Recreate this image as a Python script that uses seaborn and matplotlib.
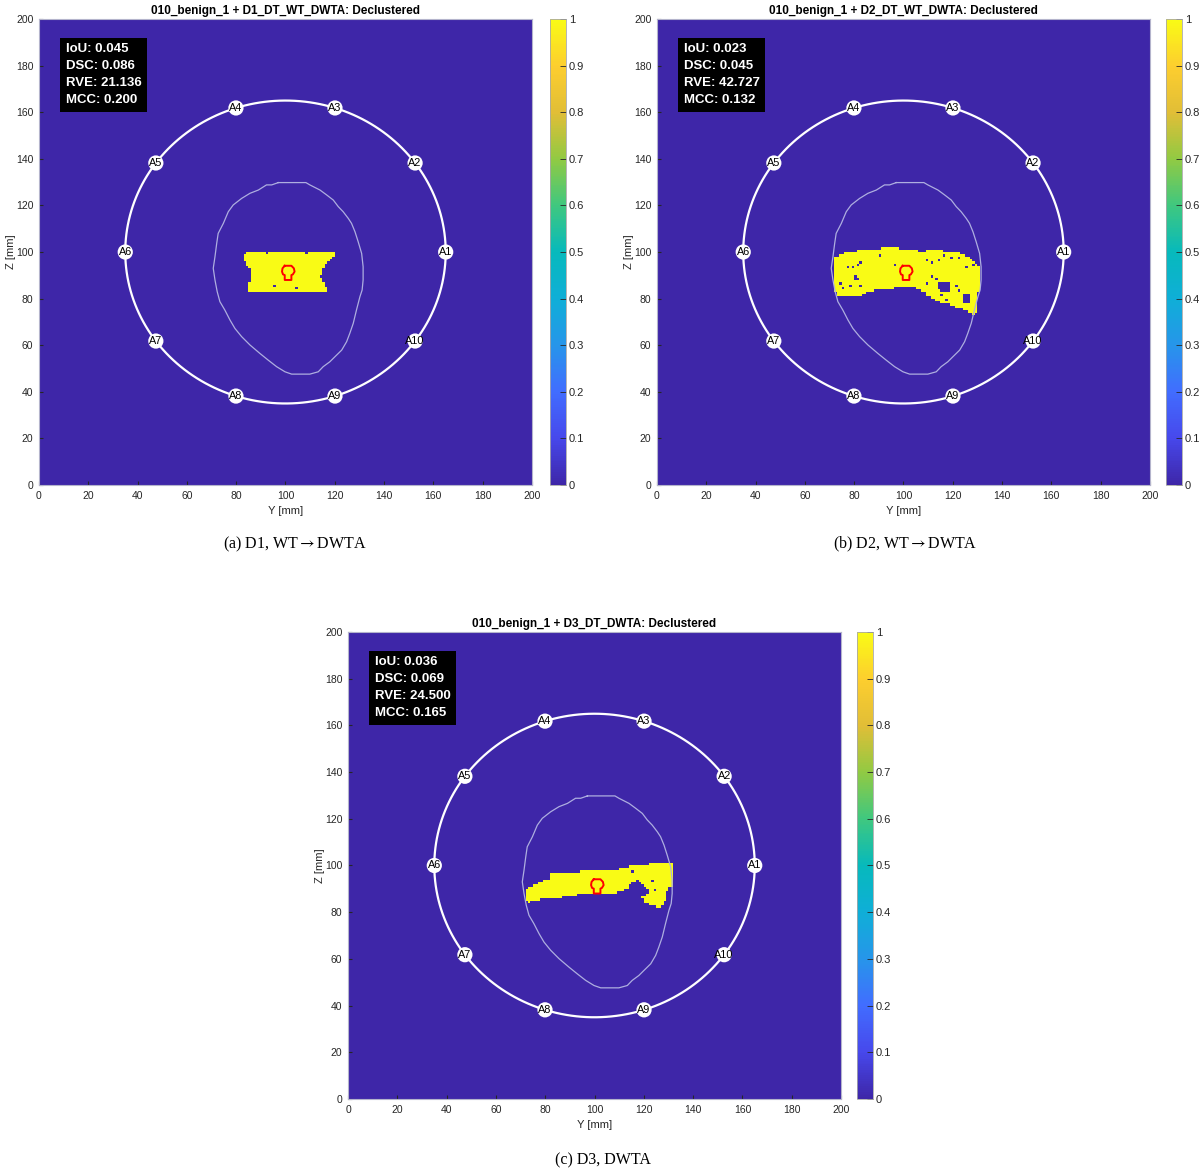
import numpy as np
import matplotlib
matplotlib.use("Agg")
import matplotlib.pyplot as plt
from matplotlib.colors import LinearSegmentedColormap
from matplotlib.path import Path
import seaborn as sns

plt.rcParams["font.family"] = ["Liberation Sans", "DejaVu Sans"]
plt.rcParams["mathtext.fontset"] = "stix"

# ---------------------------------------------------------------- data
panel_titles = [
    "010_benign_1 + D1_DT_WT_DWTA: Declustered",
    "010_benign_1 + D2_DT_WT_DWTA: Declustered",
    "010_benign_1 + D3_DT_DWTA: Declustered",
]
captions = [r"(a) D1, WT$\rightarrow$DWTA", r"(b) D2, WT$\rightarrow$DWTA", "(c) D3, DWTA"]

metric_names = ["IoU", "DSC", "RVE", "MCC"]
metrics_d1 = [0.045, 0.086, 21.136, 0.200]
metrics_d2 = [0.023, 0.045, 42.727, 0.132]
metrics_d3 = [0.036, 0.069, 24.500, 0.165]

x_ticks = [0, 20, 40, 60, 80, 100, 120, 140, 160, 180, 200]
y_ticks = [0, 20, 40, 60, 80, 100, 120, 140, 160, 180, 200]
cbar_ticks = [0, 0.1, 0.2, 0.3, 0.4, 0.5, 0.6, 0.7, 0.8, 0.9, 1]
cbar_labels = ["0", "0.1", "0.2", "0.3", "0.4", "0.5", "0.6", "0.7", "0.8", "0.9", "1"]

# antenna ring (mm)
antenna_labels = ["A1", "A2", "A3", "A4", "A5", "A6", "A7", "A8", "A9", "A10"]
antenna_angles_deg = [0, 36, 72, 108, 144, 180, 216, 252, 288, 324]
ring_center = (100.0, 100.0)
ring_radius = 65.0

# breast contour (mm)
breast_x = [97.1, 108.3, 109.9, 114.0, 116.7, 119.4, 121.4, 123.4, 125.5, 126.8,
            128.2, 129.5, 130.9, 131.5, 131.5, 131.1, 130.2, 128.8, 127.5, 126.1,
            124.8, 122.8, 120.1, 118.0, 115.3, 113.3, 109.9, 102.5, 99.8, 96.4,
            93.0, 89.6, 85.6, 82.2, 79.5, 77.5, 75.4, 73.4, 72.3, 71.4,
            70.7, 71.4, 72.1, 72.7, 74.8, 76.8, 78.8, 82.2, 85.6, 89.0,
            92.3, 94.4, 97.1]
breast_y = [129.8, 129.8, 128.8, 126.6, 124.5, 122.3, 119.5, 117.3, 114.4, 112.3,
            108.7, 104.4, 99.4, 93.7, 88.0, 83.7, 80.8, 75.1, 69.4, 65.1,
            61.5, 57.9, 55.1, 52.9, 50.8, 48.6, 47.6, 47.6, 48.6, 50.8,
            53.6, 56.5, 60.1, 63.7, 67.2, 70.8, 75.1, 78.7, 83.0, 88.0,
            93.0, 98.0, 103.7, 108.0, 112.3, 117.3, 120.2, 123.0, 125.2, 126.6,
            128.8, 128.8, 129.8]

# reference tumour contour (mm)
tumor_x = [99.7, 102.4, 103.4, 103.7, 103.0, 102.4, 102.4, 99.7, 99.7, 99.0, 98.6, 98.8, 99.7]
tumor_y = [94.1, 94.1, 93.0, 91.6, 90.4, 90.1, 88.0, 88.0, 90.1, 90.4, 91.6, 93.0, 94.1]

# D1 detection region (mm)
d1_x = [82.6, 84.8, 119.9, 121.0, 119.9, 117.9, 116.2, 115.2, 114.3, 115.2,
        116.3, 117.2, 85.5, 84.8, 85.9, 86.4, 85.5, 84.1, 82.6]
d1_y = [98.7, 99.9, 99.9, 100.9, 98.7, 96.6, 94.4, 92.3, 89.4, 87.3,
        85.1, 83.0, 83.0, 85.1, 88.0, 90.1, 93.0, 95.1, 96.6]
d1_gap_x = [95.2, 104.4, 92.0, 108.5]
d1_gap_y = [85.1, 84.4, 99.5, 99.5]

# D2 detection region (mm)
d2_x = [71.5, 74.6, 78.0, 83.4, 88.8, 91.5, 95.6, 101.0, 107.8, 111.8,
        117.2, 122.6, 126.7, 129.4, 131.4, 131.4, 130.1, 130.1, 128.7, 126.7,
        124.7, 122.0, 119.3, 115.9, 112.5, 109.8, 108.4, 105.1, 95.6, 88.8,
        84.8, 82.1, 73.3, 71.9, 71.5]
d2_y = [97.4, 98.85, 100.3, 100.7, 101.0, 101.7, 101.7, 101.3, 100.3, 101.0,
        100.3, 99.6, 97.4, 94.6, 93.1, 83.8, 82.4, 75.2, 73.1, 73.8,
        75.2, 76.0, 77.4, 78.1, 79.5, 81.0, 83.1, 84.5, 84.5, 83.8,
        82.4, 81.0, 81.0, 83.8, 89.6]
d2_gap_x = [77.4, 79.1, 81.4, 82.1, 80.5, 81.4, 75.3, 78.0, 82.1, 90.9,
            96.3, 109.1, 111.8, 114.5, 116.6, 119.3, 122.6, 125.3, 128.0, 111.8,
            113.2, 109.8, 121.3, 122.6, 115.9, 117.2, 80.5, 74.5]
d2_gap_y = [93.1, 93.8, 94.1, 95.3, 89.5, 88.8, 84.5, 85.3, 85.3, 98.4,
            94.6, 96.0, 95.3, 96.7, 98.1, 97.4, 97.4, 93.8, 94.6, 89.6,
            88.8, 86.7, 85.3, 83.8, 81.0, 79.5, 88.5, 86.2]
d2_hole1_x = [114.0, 116.0, 118.5, 119.5, 119.0, 117.0, 115.0, 113.8]
d2_hole1_y = [86.2, 87.4, 87.0, 85.5, 83.5, 82.8, 83.2, 84.5]
d2_hole2_x = [123.5, 126.0, 127.5, 127.0, 125.0, 123.5]
d2_hole2_y = [81.8, 82.6, 80.5, 78.0, 77.6, 79.2]

# D3 detection region (mm)
d3_x = [71.7, 71.7, 73.0, 75.1, 78.4, 82.5, 86.5, 89.9, 94.0, 98.0,
        104.1, 108.2, 110.2, 112.9, 114.3, 115.6, 117.6, 119.7, 121.0, 122.4,
        121.0, 119.3, 119.7, 121.7, 123.7, 126.4, 127.8, 128.5, 129.1, 130.5,
        131.8, 131.8, 123.1, 116.3, 109.5, 102.8, 96.0, 89.3, 82.5, 81.8,
        77.8, 75.1]
d3_y = [89.8, 86.3, 84.1, 84.8, 85.5, 86.3, 86.5, 87.0, 87.7, 88.0,
        88.0, 87.7, 89.1, 89.8, 91.3, 92.7, 93.7, 92.3, 90.3, 89.1,
        87.7, 86.5, 84.8, 83.4, 82.7, 82.3, 83.4, 85.5, 88.4, 90.6,
        91.7, 100.6, 100.6, 99.9, 98.4, 98.4, 97.7, 97.0, 97.0, 94.8,
        92.7, 91.3]
d3_gap_x = [81.8, 115.6, 123.0, 124.4, 130.5]
d3_gap_y = [94.1, 97.7, 93.4, 89.1, 85.5]

# ---------------------------------------------------------------- colormap
parula_rgb = [
    (0.2422, 0.1504, 0.6603), (0.2783, 0.2843, 0.9256), (0.2563, 0.4279, 0.9992),
    (0.1500, 0.5867, 0.9169), (0.0594, 0.6842, 0.8430), (0.0265, 0.7266, 0.7369),
    (0.2474, 0.7822, 0.4985), (0.5683, 0.7916, 0.2627), (0.8808, 0.7443, 0.2149),
    (0.9916, 0.8077, 0.1827), (0.9769, 0.9839, 0.0805),
]
parula = LinearSegmentedColormap.from_list("parula", parula_rgb, N=256)

N = 200
centers = np.arange(N) + 0.5
XX, YY = np.meshgrid(centers, centers)
cell_pts = np.column_stack([XX.ravel(), YY.ravel()])


def region_mask(px, py, gaps_x, gaps_y, holes=()):
    grid = np.zeros((N, N))
    inside = Path(np.column_stack([px, py])).contains_points(cell_pts)
    grid[inside.reshape(N, N)] = 1.0
    for hx, hy in holes:
        h = Path(np.column_stack([hx, hy])).contains_points(cell_pts)
        grid[h.reshape(N, N)] = 0.0
    for gx, gy in zip(gaps_x, gaps_y):
        grid[int(gy), int(gx)] = 0.0
    return grid


panels = [
    dict(grid=region_mask(d1_x, d1_y, d1_gap_x, d1_gap_y), metrics=metrics_d1,
         ax=[0.0324, 0.5865, 0.4098, 0.3973], cax=[0.4572, 0.5865, 0.0133, 0.3973],
         cap=(0.2453, 0.5362)),
    dict(grid=region_mask(d2_x, d2_y, d2_gap_x, d2_gap_y,
                          holes=[(d2_hole1_x, d2_hole1_y), (d2_hole2_x, d2_hole2_y)]),
         metrics=metrics_d2,
         ax=[0.5461, 0.5865, 0.4098, 0.3973], cax=[0.9692, 0.5865, 0.0133, 0.3973],
         cap=(0.7525, 0.5362)),
    dict(grid=region_mask(d3_x, d3_y, d3_gap_x, d3_gap_y), metrics=metrics_d3,
         ax=[0.2893, 0.0631, 0.4098, 0.3981], cax=[0.7124, 0.0631, 0.0133, 0.3981],
         cap=(0.5012, 0.0111)),
]

TXT = "#262626"
fig = plt.figure(figsize=(12.03, 11.73), dpi=100)

ang = np.deg2rad(antenna_angles_deg)
ant_x = ring_center[0] + ring_radius * np.cos(ang)
ant_y = ring_center[1] + ring_radius * np.sin(ang)
theta = np.linspace(0, 2 * np.pi, 400)

for title, caption, p in zip(panel_titles, captions, panels):
    ax = fig.add_axes(p["ax"])
    cax = fig.add_axes(p["cax"])
    sns.heatmap(p["grid"], ax=ax, cbar_ax=cax, cmap=parula, vmin=0, vmax=1,
                xticklabels=False, yticklabels=False, rasterized=True)
    ax.set_xlim(0, 200)
    ax.set_ylim(0, 200)
    ax.set_xticks(x_ticks)
    ax.set_xticklabels([str(t) for t in x_ticks])
    ax.set_yticks(y_ticks)
    ax.set_yticklabels([str(t) for t in y_ticks])
    ax.tick_params(direction="in", length=3, labelsize=7.5, colors=TXT,
                   labelcolor=TXT, pad=4)
    for s in ax.spines.values():
        s.set_visible(True)
        s.set_color("#b4b4cc")
        s.set_linewidth(0.8)
    ax.set_xlabel("Y [mm]", fontsize=8, color=TXT, labelpad=4)
    ax.set_ylabel("Z [mm]", fontsize=8, color=TXT, labelpad=0)
    ax.set_title(title, fontsize=8.5, fontweight="bold", color="black", pad=3.5)

    # breast outline and reference tumour
    ax.plot(breast_x, breast_y, color="#aeaee0", lw=0.9, zorder=3)
    ax.plot(tumor_x, tumor_y, color="red", lw=1.4, zorder=4)

    # antenna ring
    ax.plot(ring_center[0] + ring_radius * np.cos(theta),
            ring_center[1] + ring_radius * np.sin(theta),
            color="white", lw=1.6, zorder=4)
    ax.scatter(ant_x, ant_y, s=120, c="white", edgecolors="none", zorder=5)
    for lbl, x, y in zip(antenna_labels, ant_x, ant_y):
        ax.text(x, y, lbl, ha="center", va="center", fontsize=7.8,
                color="black", zorder=6)

    # metrics box
    m = p["metrics"]
    txt = "\n".join([
        f"{metric_names[0]}: {m[0]:.3f}",
        f"{metric_names[1]}: {m[1]:.3f}",
        f"{metric_names[2]}: {m[2]:.3f}",
        f"{metric_names[3]}: {m[3]:.3f}",
    ])
    ax.text(10.9, 189.6, txt, ha="left", va="top", fontsize=9.5,
            fontweight="bold", color="white", linespacing=1.55, zorder=7,
            bbox=dict(boxstyle="square,pad=0.42", fc="black", ec="none"))

    # colorbar
    cbar = ax.collections[0].colorbar
    cbar.set_ticks(cbar_ticks)
    cbar.set_ticklabels(cbar_labels)
    cax.tick_params(direction="in", length=4, width=0.6, labelsize=8,
                    colors=TXT, labelcolor=TXT, pad=2)
    cbar.outline.set_visible(True)
    cbar.outline.set_edgecolor("#a8a8a8")
    cbar.outline.set_linewidth(0.6)

    fig.text(p["cap"][0], p["cap"][1], caption, ha="center", va="center",
             fontsize=11.5, family=["Liberation Serif", "DejaVu Serif"], color="black")

fig.savefig("out.png", dpi=100, facecolor="white")
